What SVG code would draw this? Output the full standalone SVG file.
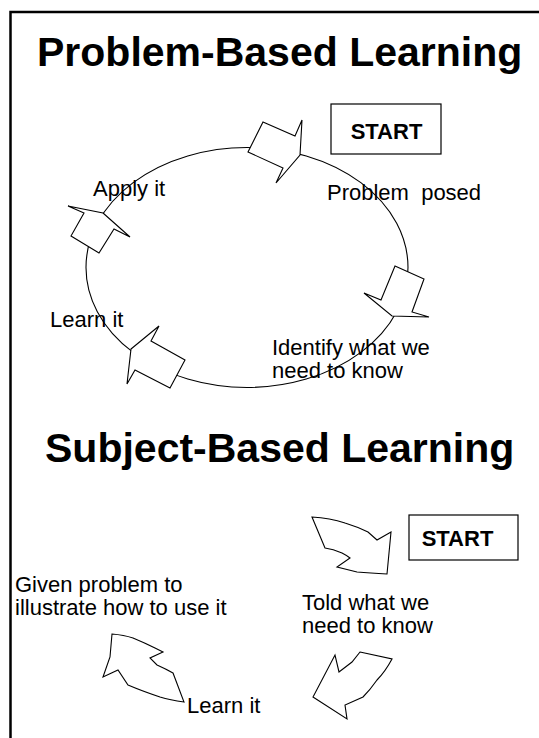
<svg xmlns="http://www.w3.org/2000/svg" width="539" height="738" viewBox="0 0 539 738">
<style>
.t{font-family:"Liberation Sans",Arial,sans-serif;fill:#000}
.title{font-size:41px;font-weight:bold}
.lbl{font-size:22px;white-space:pre}
.st{font-size:22px;font-weight:bold}
.box{fill:#fff;stroke:#000;stroke-width:1.2}
.arr{fill:#fff;stroke:#000;stroke-width:1.1;stroke-linejoin:miter}
.conn{fill:none;stroke:#000;stroke-width:1.1}
</style>
<rect x="0" y="0" width="539" height="738" fill="#fff"/>
<rect id="frame" x="10.5" y="12" width="600" height="800" fill="none" stroke="#000" stroke-width="2.5"/>
<g id="titles">
<text class="t title" x="37" y="66">Problem-Based Learning</text>
<text class="t title" x="45" y="462">Subject-Based Learning</text>
</g>
<g id="connectors">
<ellipse class="conn" cx="247" cy="267.5" rx="161" ry="120"/>
</g>
<g id="arrow-top"><polygon class="arr" points="263,122 295,136 302,120 300,155 276,183 283,168 248,152"/></g>
<g id="arrow-right"><polygon class="arr" points="395,266 424,279 412,312 429,317 392,316 364,293 381,300"/></g>
<g id="arrow-bottom"><polygon class="arr" points="131,349 159,326 151,341 185,360 170,388 135,370 127,384"/></g>
<g id="arrow-left"><polygon class="arr" points="103,213 130,237 114,229 99,253 71,236 84,213 68,206"/></g>
<g id="start1"><rect class="box" x="331" y="104" width="110" height="50"/><text class="t st" x="386.5" y="139" text-anchor="middle">START</text></g>
<g id="lbl-apply"><text class="t lbl" x="93" y="196">Apply it</text></g>
<g id="lbl-posed"><text class="t lbl" x="327" y="200">Problem  posed</text></g>
<g id="lbl-learn1"><text class="t lbl" x="50" y="327">Learn it</text></g>
<g id="lbl-identify"><text class="t lbl" x="272" y="355">Identify what we</text><text class="t lbl" x="272" y="378">need to know</text></g>
<g id="sarrow-1"><path class="arr" d="M312,517 Q330,518 345,523 Q358,527 368,532 L377,540 L391,532 L387,574 Q370,573 357,572 L337,567 L350,558 Q346,555 342,553 Q333,549 325,548 Z"/></g>
<g id="sarrow-2"><path class="arr" d="M360,652 L392,659 Q385,672 377,680 Q370,690 363,697 L345,705 L347,719 L313,697 L335,655 L339,672 L352,662 Z"/></g>
<g id="sarrow-3"><path class="arr" d="M112,634 Q124,635 133,638 Q145,643 155,648 L163,652 L150,658 L157,665 Q166,669 173,673 L184,702 Q170,700 160,697 Q142,691 128,685 L118,670 L103,677 L110,657 Z"/></g>
<g id="start2"><rect class="box" x="409" y="515" width="109" height="45"/><text class="t st" x="457.5" y="546" text-anchor="middle">START</text></g>
<g id="lbl-told"><text class="t lbl" x="302" y="610">Told what we</text><text class="t lbl" x="302" y="633">need to know</text></g>
<g id="lbl-given"><text class="t lbl" x="15" y="592">Given problem to</text><text class="t lbl" x="15" y="615">illustrate how to use it</text></g>
<g id="lbl-learn2"><text class="t lbl" x="187" y="713">Learn it</text></g>
</svg>
